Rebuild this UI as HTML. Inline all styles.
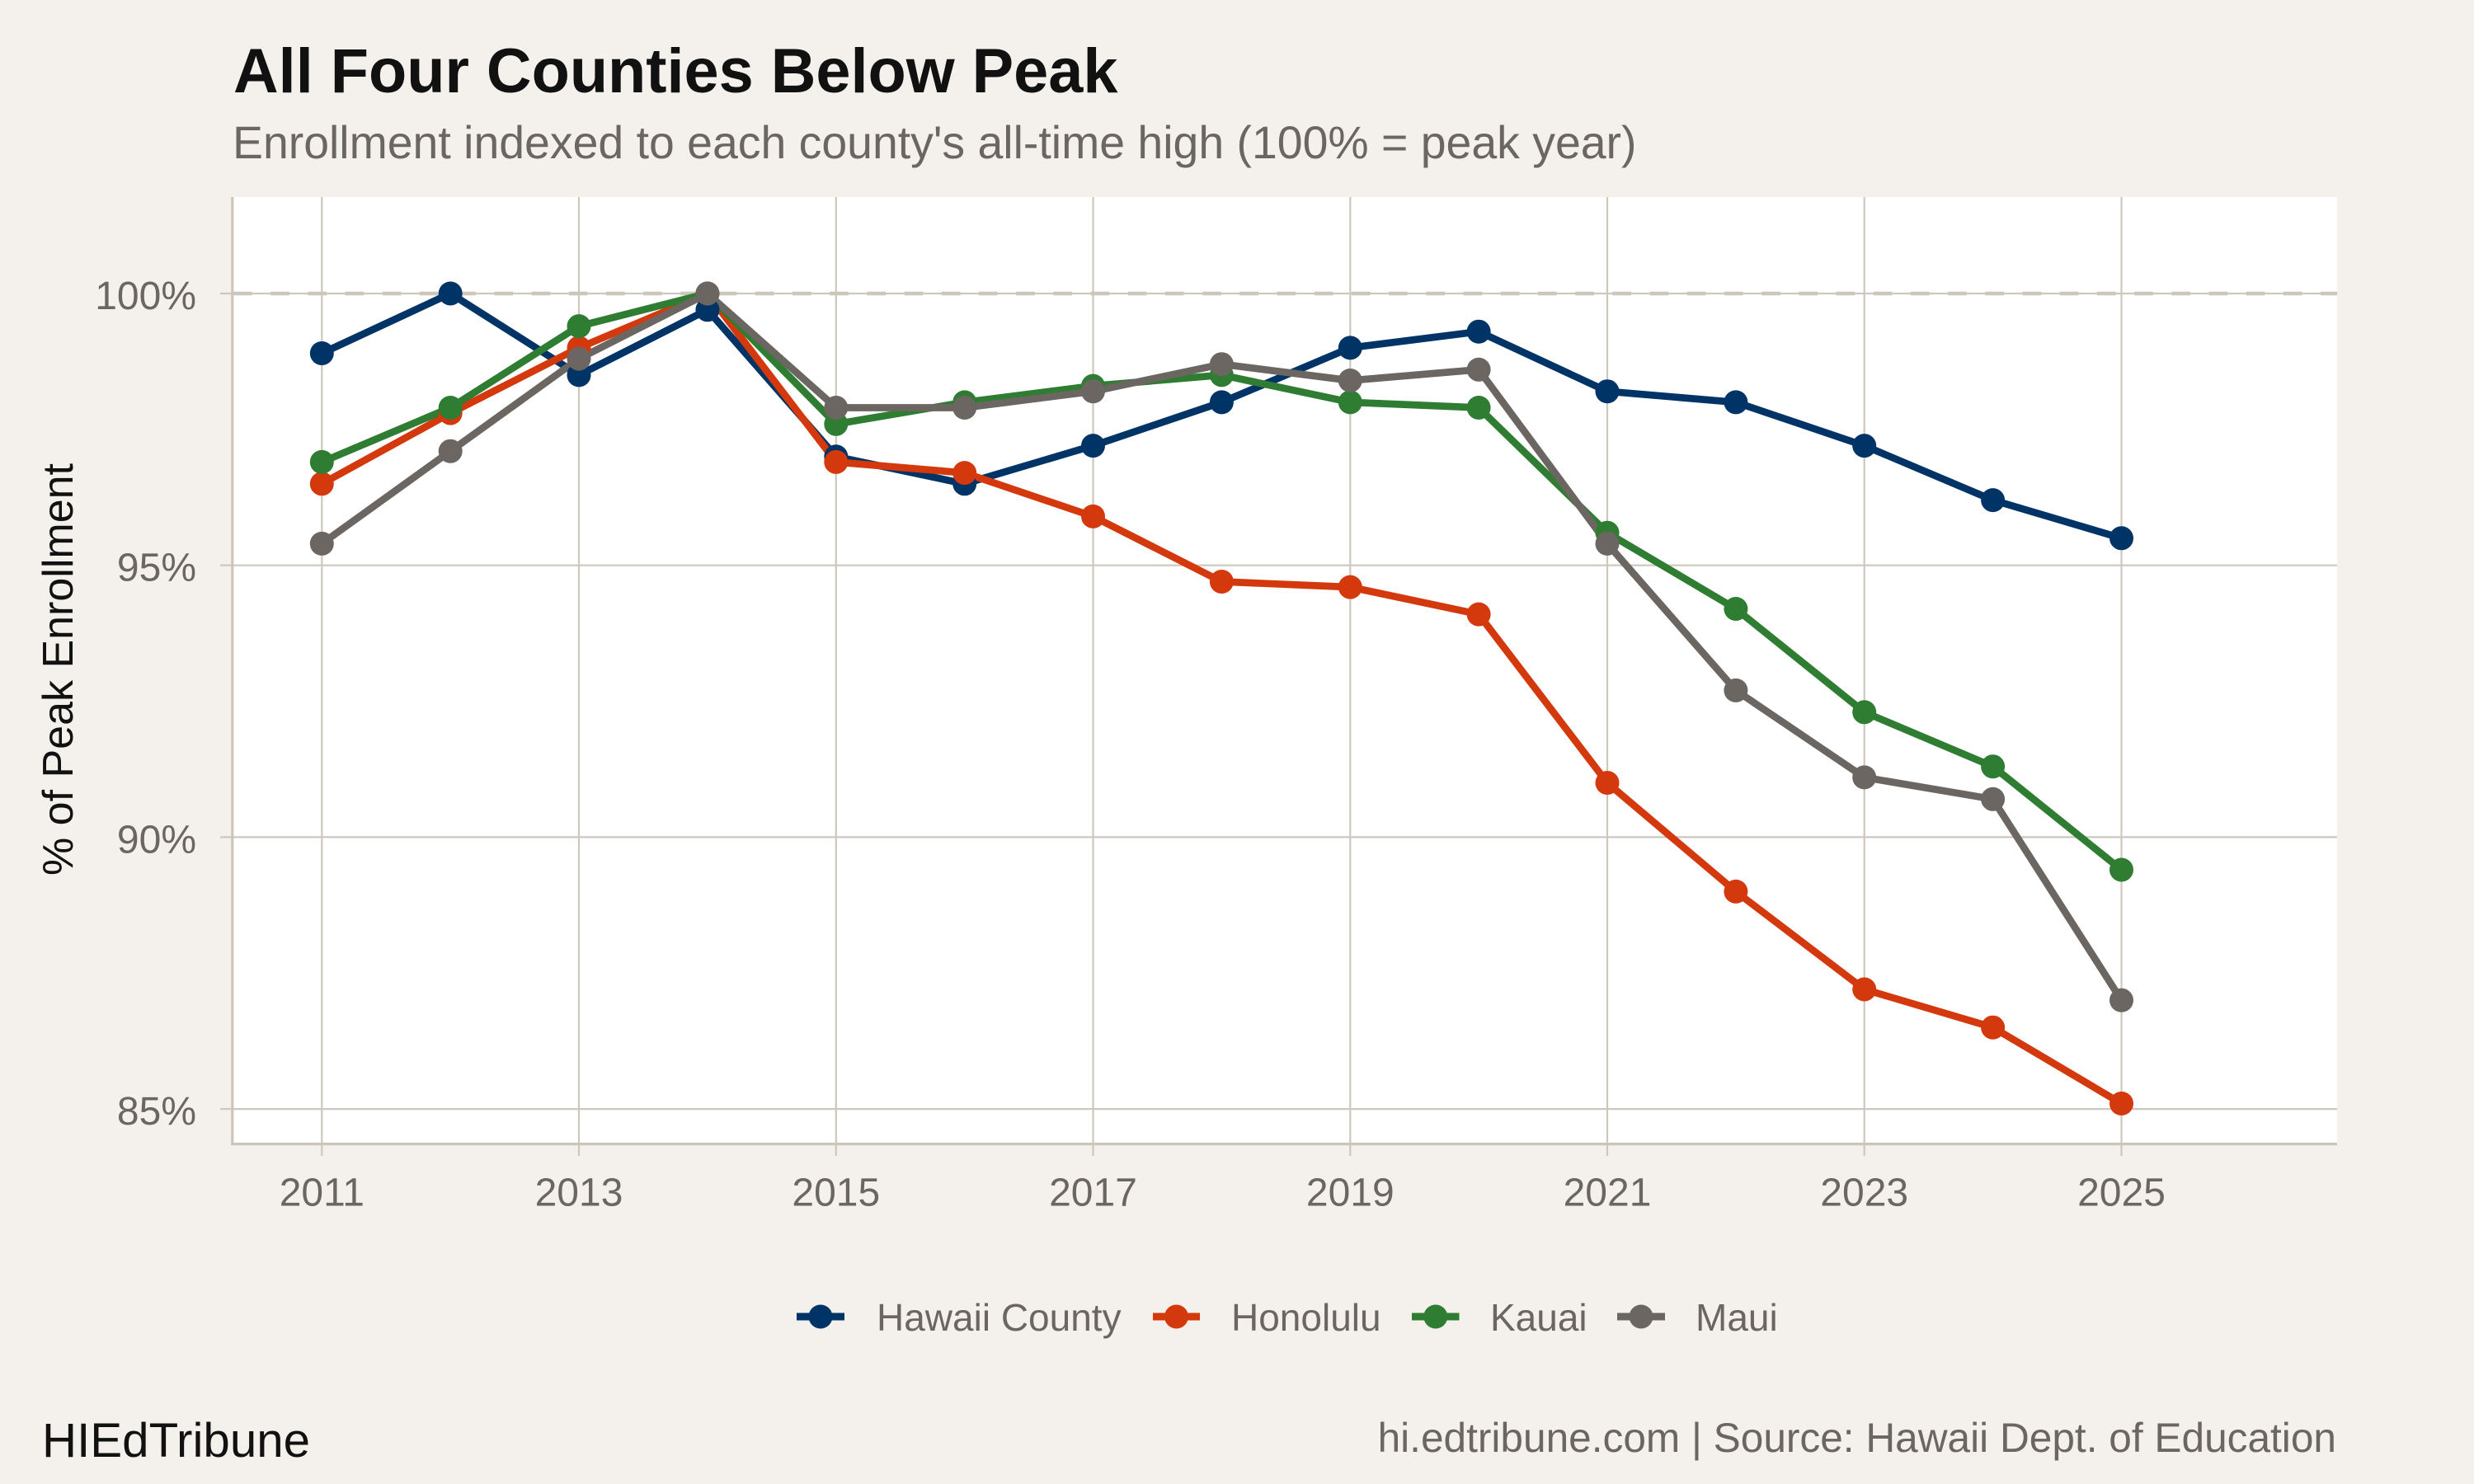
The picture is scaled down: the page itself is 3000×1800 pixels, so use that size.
<!DOCTYPE html>
<html><head><meta charset="utf-8"><style>
html,body{margin:0;padding:0;background:#f4f1ec;}
svg{display:block;}
text{font-family:"Liberation Sans",Arial,sans-serif;}
</style></head><body>
<svg width="3000" height="1800" viewBox="0 0 3000 1800" xmlns="http://www.w3.org/2000/svg">
<rect x="0" y="0" width="3000" height="1800" fill="#f4f1ec"/>
<text x="283" y="112" font-size="75.7" font-weight="bold" fill="#111111">All Four Counties Below Peak</text>
<text x="282" y="192" font-size="55.4" fill="#6b6661">Enrollment indexed to each county's all-time high (100% = peak year)</text>
<rect x="283" y="239" width="2551" height="1148" fill="#ffffff"/>
<g stroke="#cdc7bd" stroke-width="2.2" fill="none">
<line x1="390.3" y1="239" x2="390.3" y2="1387"/>
<line x1="702.0" y1="239" x2="702.0" y2="1387"/>
<line x1="1013.8" y1="239" x2="1013.8" y2="1387"/>
<line x1="1325.5" y1="239" x2="1325.5" y2="1387"/>
<line x1="1637.3" y1="239" x2="1637.3" y2="1387"/>
<line x1="1949.0" y1="239" x2="1949.0" y2="1387"/>
<line x1="2260.7" y1="239" x2="2260.7" y2="1387"/>
<line x1="2572.5" y1="239" x2="2572.5" y2="1387"/>
<line x1="283" y1="356" x2="2834" y2="356"/>
<line x1="283" y1="685.7" x2="2834" y2="685.7"/>
<line x1="283" y1="1015.4" x2="2834" y2="1015.4"/>
<line x1="283" y1="1345.1" x2="2834" y2="1345.1"/>
<line x1="267" y1="356" x2="282" y2="356"/>
<line x1="267" y1="685.7" x2="282" y2="685.7"/>
<line x1="267" y1="1015.4" x2="282" y2="1015.4"/>
<line x1="267" y1="1345.1" x2="282" y2="1345.1"/>
<line x1="390.3" y1="1387" x2="390.3" y2="1402"/>
<line x1="702.0" y1="1387" x2="702.0" y2="1402"/>
<line x1="1013.8" y1="1387" x2="1013.8" y2="1402"/>
<line x1="1325.5" y1="1387" x2="1325.5" y2="1402"/>
<line x1="1637.3" y1="1387" x2="1637.3" y2="1402"/>
<line x1="1949.0" y1="1387" x2="1949.0" y2="1402"/>
<line x1="2260.7" y1="1387" x2="2260.7" y2="1402"/>
<line x1="2572.5" y1="1387" x2="2572.5" y2="1402"/>
</g>
<g stroke="#cbc5bb" stroke-width="3.2">
<line x1="281.8" y1="239" x2="281.8" y2="1389"/>
<line x1="280.2" y1="1387.6" x2="2834" y2="1387.6"/>
</g>
<line x1="283" y1="356" x2="2834" y2="356" stroke="#cdc6bb" stroke-width="4.6" stroke-dasharray="22.6 22.6"/>
<g fill="none" stroke-width="8.7" stroke-linejoin="round" stroke-linecap="butt">
<polyline stroke="#003366" points="390.3,428.5 546.2,356 702.0,454.9 857.9,375.8 1013.8,553.8 1169.7,586.8 1325.5,540.6 1481.4,487.9 1637.3,421.9 1793.1,402.2 1949.0,474.7 2104.9,487.9 2260.7,540.6 2416.6,606.6 2572.5,652.8"/>
<polyline stroke="#d4380d" points="390.3,586.8 546.2,501.1 702.0,421.9 857.9,356 1013.8,560.4 1169.7,573.6 1325.5,626.4 1481.4,705.5 1637.3,712.1 1793.1,745.1 1949.0,949.5 2104.9,1081.4 2260.7,1200.0 2416.6,1246.2 2572.5,1338.5"/>
<polyline stroke="#2e7d32" points="390.3,560.4 546.2,494.5 702.0,395.6 857.9,356 1013.8,514.3 1169.7,487.9 1325.5,468.1 1481.4,454.9 1637.3,487.9 1793.1,494.5 1949.0,646.2 2104.9,738.5 2260.7,863.8 2416.6,929.7 2572.5,1055.0"/>
<polyline stroke="#6b6661" points="390.3,659.4 546.2,547.2 702.0,435.1 857.9,356 1013.8,494.5 1169.7,494.5 1325.5,474.7 1481.4,441.7 1637.3,461.5 1793.1,448.3 1949.0,659.4 2104.9,837.4 2260.7,942.9 2416.6,969.3 2572.5,1213.2"/>
</g>
<g fill="#003366">
<circle cx="390.3" cy="428.5" r="14.5"/><circle cx="546.2" cy="356" r="14.5"/><circle cx="702.0" cy="454.9" r="14.5"/><circle cx="857.9" cy="375.8" r="14.5"/><circle cx="1013.8" cy="553.8" r="14.5"/><circle cx="1169.7" cy="586.8" r="14.5"/><circle cx="1325.5" cy="540.6" r="14.5"/><circle cx="1481.4" cy="487.9" r="14.5"/><circle cx="1637.3" cy="421.9" r="14.5"/><circle cx="1793.1" cy="402.2" r="14.5"/><circle cx="1949.0" cy="474.7" r="14.5"/><circle cx="2104.9" cy="487.9" r="14.5"/><circle cx="2260.7" cy="540.6" r="14.5"/><circle cx="2416.6" cy="606.6" r="14.5"/><circle cx="2572.5" cy="652.8" r="14.5"/>
</g>
<g fill="#d4380d">
<circle cx="390.3" cy="586.8" r="14.5"/><circle cx="546.2" cy="501.1" r="14.5"/><circle cx="702.0" cy="421.9" r="14.5"/><circle cx="857.9" cy="356" r="14.5"/><circle cx="1013.8" cy="560.4" r="14.5"/><circle cx="1169.7" cy="573.6" r="14.5"/><circle cx="1325.5" cy="626.4" r="14.5"/><circle cx="1481.4" cy="705.5" r="14.5"/><circle cx="1637.3" cy="712.1" r="14.5"/><circle cx="1793.1" cy="745.1" r="14.5"/><circle cx="1949.0" cy="949.5" r="14.5"/><circle cx="2104.9" cy="1081.4" r="14.5"/><circle cx="2260.7" cy="1200.0" r="14.5"/><circle cx="2416.6" cy="1246.2" r="14.5"/><circle cx="2572.5" cy="1338.5" r="14.5"/>
</g>
<g fill="#2e7d32">
<circle cx="390.3" cy="560.4" r="14.5"/><circle cx="546.2" cy="494.5" r="14.5"/><circle cx="702.0" cy="395.6" r="14.5"/><circle cx="857.9" cy="356" r="14.5"/><circle cx="1013.8" cy="514.3" r="14.5"/><circle cx="1169.7" cy="487.9" r="14.5"/><circle cx="1325.5" cy="468.1" r="14.5"/><circle cx="1481.4" cy="454.9" r="14.5"/><circle cx="1637.3" cy="487.9" r="14.5"/><circle cx="1793.1" cy="494.5" r="14.5"/><circle cx="1949.0" cy="646.2" r="14.5"/><circle cx="2104.9" cy="738.5" r="14.5"/><circle cx="2260.7" cy="863.8" r="14.5"/><circle cx="2416.6" cy="929.7" r="14.5"/><circle cx="2572.5" cy="1055.0" r="14.5"/>
</g>
<g fill="#6b6661">
<circle cx="390.3" cy="659.4" r="14.5"/><circle cx="546.2" cy="547.2" r="14.5"/><circle cx="702.0" cy="435.1" r="14.5"/><circle cx="857.9" cy="356" r="14.5"/><circle cx="1013.8" cy="494.5" r="14.5"/><circle cx="1169.7" cy="494.5" r="14.5"/><circle cx="1325.5" cy="474.7" r="14.5"/><circle cx="1481.4" cy="441.7" r="14.5"/><circle cx="1637.3" cy="461.5" r="14.5"/><circle cx="1793.1" cy="448.3" r="14.5"/><circle cx="1949.0" cy="659.4" r="14.5"/><circle cx="2104.9" cy="837.4" r="14.5"/><circle cx="2260.7" cy="942.9" r="14.5"/><circle cx="2416.6" cy="969.3" r="14.5"/><circle cx="2572.5" cy="1213.2" r="14.5"/>
</g>
<g font-size="48" fill="#6b6661" text-anchor="end">
<text x="238" y="375">100%</text>
<text x="238" y="704.7">95%</text>
<text x="238" y="1034.4">90%</text>
<text x="238" y="1364.1">85%</text>
</g>
<g font-size="48" fill="#6b6661" text-anchor="middle">
<text x="390.3" y="1462.5">2011</text>
<text x="702.0" y="1462.5">2013</text>
<text x="1013.8" y="1462.5">2015</text>
<text x="1325.5" y="1462.5">2017</text>
<text x="1637.3" y="1462.5">2019</text>
<text x="1949.0" y="1462.5">2021</text>
<text x="2260.7" y="1462.5">2023</text>
<text x="2572.5" y="1462.5">2025</text>
</g>
<text transform="translate(88,812) rotate(-90)" text-anchor="middle" font-size="52" fill="#111111">% of Peak Enrollment</text>
<g stroke-width="9">
<line x1="966" y1="1597" x2="1024" y2="1597" stroke="#003366"/>
<line x1="1398" y1="1597" x2="1455" y2="1597" stroke="#d4380d"/>
<line x1="1712" y1="1597" x2="1769.5" y2="1597" stroke="#2e7d32"/>
<line x1="1961" y1="1597" x2="2019" y2="1597" stroke="#6b6661"/>
</g>
<circle cx="995" cy="1597" r="14.5" fill="#003366"/>
<circle cx="1426.5" cy="1597" r="14.5" fill="#d4380d"/>
<circle cx="1740.8" cy="1597" r="14.5" fill="#2e7d32"/>
<circle cx="1990" cy="1597" r="14.5" fill="#6b6661"/>
<g font-size="46" fill="#6b6661">
<text x="1063" y="1614">Hawaii County</text>
<text x="1493" y="1614">Honolulu</text>
<text x="1807" y="1614">Kauai</text>
<text x="2056" y="1614">Maui</text>
</g>
<text x="51" y="1767" font-size="58.3" fill="#111111">HIEdTribune</text>
<text x="2833" y="1761" font-size="49.6" fill="#6b6661" text-anchor="end">hi.edtribune.com | Source: Hawaii Dept. of Education</text>
</svg>
</body></html>
